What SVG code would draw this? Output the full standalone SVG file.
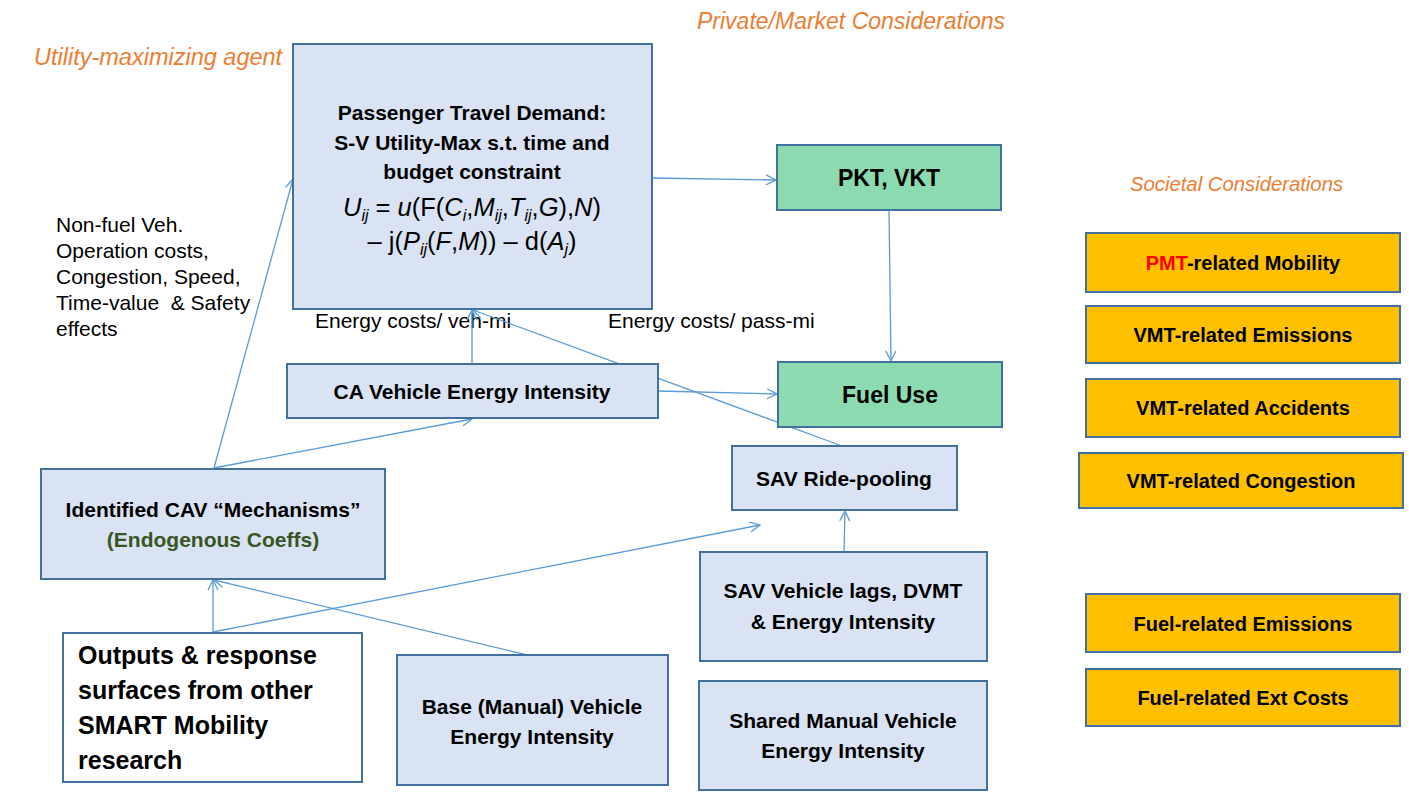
<svg xmlns="http://www.w3.org/2000/svg" width="1409" height="796" viewBox="0 0 1409 796">
<style>
.bx{fill:#DAE3F3;stroke:#41719C;stroke-width:2}
.gr{fill:#8CDBB0;stroke:#41719C;stroke-width:2}
.or{fill:#FFC000;stroke:#41719C;stroke-width:2}
.wh{fill:#FFFFFF;stroke:#41719C;stroke-width:2}
text{font-family:"Liberation Sans",Arial,sans-serif;fill:#000}
.t{font-size:21px;font-weight:bold;text-anchor:middle}
.tb{font-size:23px;font-weight:bold;text-anchor:middle}
.tl{font-size:25px;font-weight:bold}
.o{font-size:20px;font-weight:bold;text-anchor:middle}
.r{font-size:21px}
.h{font-style:italic;fill:#ED7D31}
.f{font-size:25.5px;text-anchor:middle}
.i{font-style:italic}
.s{font-size:16px;font-style:italic}
.c{stroke:#5B9BD5;stroke-width:1.3;fill:none}
</style>
<defs>
<marker id="a" viewBox="0 0 12 12" refX="11" refY="6" markerWidth="12" markerHeight="12" markerUnits="userSpaceOnUse" orient="auto">
<path d="M1,1 L11,6 L1,11" fill="none" stroke="#5B9BD5" stroke-width="1.3"/>
</marker>
</defs>

<g id="labels">
<text x="34" y="65" class="h" font-size="23.5">Utility-maximizing agent</text>
<text x="697" y="29" class="h" font-size="23">Private/Market Considerations</text>
<text x="1130" y="191" class="h" font-size="20.3">Societal Considerations</text>
<text class="r" xml:space="preserve"><tspan x="56" y="232">Non-fuel Veh.</tspan><tspan x="56" y="258">Operation costs,</tspan><tspan x="56" y="284">Congestion, Speed,</tspan><tspan x="56" y="310">Time-value  &amp; Safety</tspan><tspan x="56" y="336">effects</tspan></text>
<text x="315" y="328" class="r">Energy costs/ veh-mi</text>
<text x="608" y="328" class="r">Energy costs/ pass-mi</text>
</g>

<g id="connectors">
<line class="c" x1="652" y1="178" x2="776" y2="180" marker-end="url(#a)"/>
<line class="c" x1="889" y1="210" x2="891" y2="361" marker-end="url(#a)"/>
<line class="c" x1="658" y1="391" x2="777" y2="394" marker-end="url(#a)"/>
<line class="c" x1="472" y1="364" x2="472" y2="310" marker-end="url(#a)"/>
<line class="c" x1="842" y1="446" x2="473" y2="310" marker-end="url(#a)"/>
<line class="c" x1="214" y1="468" x2="293" y2="179" marker-end="url(#a)"/>
<line class="c" x1="214" y1="468" x2="472" y2="419" marker-end="url(#a)"/>
<line class="c" x1="213" y1="632" x2="213" y2="580" marker-end="url(#a)"/>
<line class="c" x1="213" y1="632" x2="760" y2="525" marker-end="url(#a)"/>
<line class="c" x1="527" y1="655" x2="214" y2="580" marker-end="url(#a)"/>
<line class="c" x1="844" y1="552" x2="845" y2="511" marker-end="url(#a)"/>
</g>

<g id="passenger">
<rect class="bx" x="293" y="44" width="359" height="265"/>
<text x="472" y="120" class="t">Passenger Travel Demand:</text>
<text x="472" y="150" class="t">S-V Utility-Max s.t. time and</text>
<text x="472" y="179" class="t">budget constraint</text>
<text x="472" y="216" class="f"><tspan class="i">U</tspan><tspan class="s" dy="5">ij</tspan><tspan dy="-5"> = </tspan><tspan class="i">u</tspan>(F(<tspan class="i">C</tspan><tspan class="s" dy="5">i</tspan><tspan dy="-5">,</tspan><tspan class="i">M</tspan><tspan class="s" dy="5">ij</tspan><tspan dy="-5">,</tspan><tspan class="i">T</tspan><tspan class="s" dy="5">ij</tspan><tspan dy="-5">,</tspan><tspan class="i">G</tspan>),<tspan class="i">N</tspan>)</text>
<text x="472" y="250" class="f">– j(<tspan class="i">P</tspan><tspan class="s" dy="5">ij</tspan><tspan dy="-5">(</tspan><tspan class="i">F</tspan>,<tspan class="i">M</tspan>)) – d(<tspan class="i">A</tspan><tspan class="s" dy="5">j</tspan><tspan dy="-5">)</tspan></text>
</g>

<g id="pkt">
<rect class="gr" x="777" y="145" width="224" height="65"/>
<text x="889" y="186" class="tb">PKT, VKT</text>
</g>

<g id="fuel">
<rect class="gr" x="778" y="362" width="224" height="65"/>
<text x="890" y="403" class="tb">Fuel Use</text>
</g>

<g id="ca">
<rect class="bx" x="287" y="364" width="371" height="54"/>
<text x="472" y="399" class="t">CA Vehicle Energy Intensity</text>
</g>

<g id="sav-pool">
<rect class="bx" x="732" y="446" width="225" height="64"/>
<text x="844" y="486" class="t">SAV Ride-pooling</text>
</g>

<g id="cav">
<rect class="bx" x="41" y="469" width="344" height="110"/>
<text x="213" y="517" class="t">Identified CAV “Mechanisms”</text>
<text x="213" y="547" class="t" style="fill:#375623">(Endogenous Coeffs)</text>
</g>

<g id="outputs">
<rect class="wh" x="63" y="633" width="299" height="149"/>
<text class="tl"><tspan x="78" y="664">Outputs &amp; response</tspan><tspan x="78" y="699">surfaces from other</tspan><tspan x="78" y="734">SMART Mobility</tspan><tspan x="78" y="769">research</tspan></text>
</g>

<g id="base">
<rect class="bx" x="397" y="655" width="271" height="130"/>
<text x="532" y="714" class="t">Base (Manual) Vehicle</text>
<text x="532" y="744" class="t">Energy Intensity</text>
</g>

<g id="sav-lags">
<rect class="bx" x="700" y="552" width="287" height="109"/>
<text x="843" y="598" class="t">SAV Vehicle lags, DVMT</text>
<text x="843" y="629" class="t">&amp; Energy Intensity</text>
</g>

<g id="shared">
<rect class="bx" x="699" y="681" width="288" height="109"/>
<text x="843" y="728" class="t">Shared Manual Vehicle</text>
<text x="843" y="758" class="t">Energy Intensity</text>
</g>

<g id="pmt-mobility">
<rect class="or" x="1086" y="233" width="314" height="59"/>
<text x="1243" y="270" class="o"><tspan style="fill:#FF0000">PMT</tspan>-related Mobility</text>
</g>
<g id="vmt-emissions">
<rect class="or" x="1086" y="306" width="314" height="57"/>
<text x="1243" y="342" class="o">VMT-related Emissions</text>
</g>
<g id="vmt-accidents">
<rect class="or" x="1086" y="379" width="314" height="58"/>
<text x="1243" y="415" class="o">VMT-related Accidents</text>
</g>
<g id="vmt-congestion">
<rect class="or" x="1079" y="453" width="324" height="55"/>
<text x="1241" y="488" class="o">VMT-related Congestion</text>
</g>
<g id="fuel-emissions">
<rect class="or" x="1086" y="594" width="314" height="58"/>
<text x="1243" y="631" class="o">Fuel-related Emissions</text>
</g>
<g id="fuel-ext">
<rect class="or" x="1086" y="669" width="314" height="57"/>
<text x="1243" y="705" class="o">Fuel-related Ext Costs</text>
</g>
</svg>
